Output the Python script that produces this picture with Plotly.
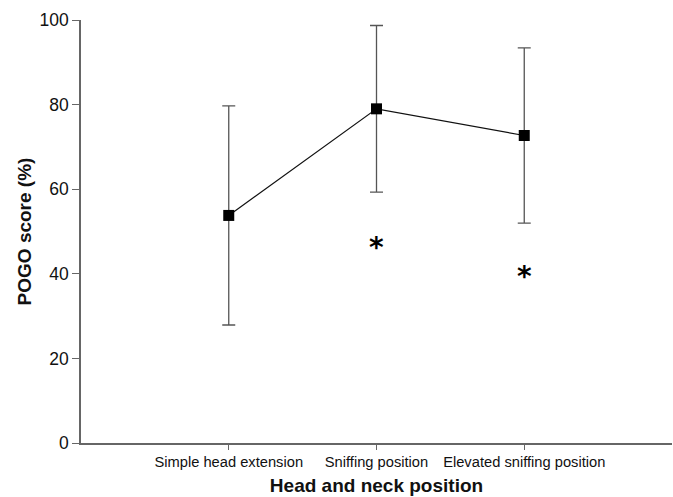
import plotly.graph_objects as go

categories = ["Simple head extension", "Sniffing position", "Elevated sniffing position"]
cat_pos = [0, 1, 2]
pogo_mean = [53.8, 79.0, 72.7]
pogo_sd = [25.9, 19.7, 20.7]
sig_pos = [1, 2]
sig_y = [47.6, 40.7]
y_ticks = [0, 20, 40, 60, 80, 100]

fig = go.Figure()
fig.add_trace(go.Scatter(
    x=cat_pos, y=pogo_mean, mode="lines+markers",
    line=dict(color="#111111", width=1.2),
    marker=dict(symbol="square", size=11, color="#000000"),
    error_y=dict(type="data", array=pogo_sd, visible=True, color="#555555", thickness=1.3, width=6.5),
    showlegend=False,
))

for xp, yp in zip(sig_pos, sig_y):
    fig.add_annotation(x=xp, y=yp, text="<b>*</b>", showarrow=False, xref="x", yref="y",
                       yanchor="middle", yshift=-6,
                       font=dict(family="DejaVu Sans", size=28, color="#000000"))

fig.update_layout(
    width=673, height=497,
    margin=dict(l=81, r=1, t=20, b=54),
    paper_bgcolor="white", plot_bgcolor="white",
    font=dict(family="Liberation Sans, Arial", color="#111111"),
    xaxis=dict(range=[-1, 3], tickvals=cat_pos, ticktext=categories,
               showline=True, linecolor="#666666", linewidth=1.5,
               ticks="outside", ticklen=5, tickcolor="#666666", tickwidth=1.2,
               showgrid=False, zeroline=False, automargin=False,
               tickfont=dict(size=14.7, color="#111111"),
               title=dict(text="<b>Head and neck position</b>", font=dict(size=19, color="#111111"), standoff=9)),
    yaxis=dict(range=[0, 100], tickvals=y_ticks,
               showline=True, linecolor="#666666", linewidth=1.5,
               ticks="outside", ticklen=7, tickcolor="#666666", tickwidth=1.2,
               showgrid=False, zeroline=False, automargin=False,
               tickfont=dict(size=17.5, color="#111111"),
               title=dict(text="<b>POGO score (%)</b>", font=dict(size=19, color="#111111"), standoff=3)),
)

fig.write_html("out.html", config={"displayModeBar": False},
               post_script="document.body.style.margin='0';document.body.style.overflow='hidden';")
